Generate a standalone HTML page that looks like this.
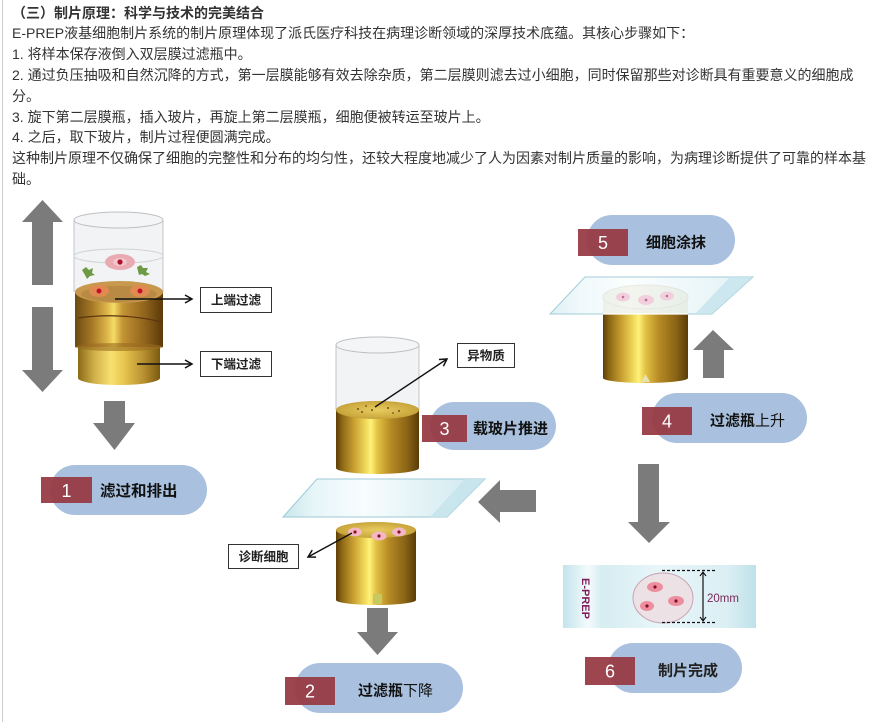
<!DOCTYPE html>
<html><head><meta charset="utf-8">
<style>
html,body{margin:0;padding:0;background:#fff;}
#wrap{position:relative;width:870px;height:722px;overflow:hidden;background:#fff;}
#txt{position:absolute;left:12px;top:2.6px;font-family:"Liberation Sans","Noto Sans CJK SC",sans-serif;font-size:14px;line-height:20.8px;color:#333;white-space:nowrap;}
#txt b{font-weight:bold;}
#border{position:absolute;left:2px;top:0;width:1px;height:722px;background:#cfcfcf;}
svg{position:absolute;left:0;top:0;}
</style></head>
<body><div id="wrap">
<div id="border"></div>
<div id="txt">
<b>（三）制片原理：科学与技术的完美结合</b><br>
E-PREP液基细胞制片系统的制片原理体现了派氏医疗科技在病理诊断领域的深厚技术底蕴。其核心步骤如下：<br>
1. 将样本保存液倒入双层膜过滤瓶中。<br>
2. 通过负压抽吸和自然沉降的方式，第一层膜能够有效去除杂质，第二层膜则滤去过小细胞，同时保留那些对诊断具有重要意义的细胞成<br>
分。<br>
3. 旋下第二层膜瓶，插入玻片，再旋上第二层膜瓶，细胞便被转运至玻片上。<br>
4. 之后，取下玻片，制片过程便圆满完成。<br>
这种制片原理不仅确保了细胞的完整性和分布的均匀性，还较大程度地减少了人为因素对制片质量的影响，为病理诊断提供了可靠的样本基<br>
础。
</div>
<svg width="870" height="722" viewBox="0 0 870 722" xmlns="http://www.w3.org/2000/svg">
<defs>
<linearGradient id="gold" x1="0" x2="1" y1="0" y2="0">
<stop offset="0" stop-color="#5e3f08"/><stop offset="0.08" stop-color="#8f6a16"/>
<stop offset="0.22" stop-color="#c9a032"/><stop offset="0.36" stop-color="#f0da5a"/>
<stop offset="0.42" stop-color="#fff27a"/><stop offset="0.5" stop-color="#e2c244"/>
<stop offset="0.66" stop-color="#b68a24"/><stop offset="0.86" stop-color="#8a6416"/>
<stop offset="1" stop-color="#5a3c08"/></linearGradient>
<linearGradient id="copper" x1="0" x2="1" y1="0" y2="0">
<stop offset="0" stop-color="#6a4a10"/><stop offset="0.2" stop-color="#a87a28"/>
<stop offset="0.36" stop-color="#dcb448"/><stop offset="0.44" stop-color="#f4dc66"/>
<stop offset="0.54" stop-color="#c49434"/><stop offset="0.8" stop-color="#8e621c"/>
<stop offset="1" stop-color="#5a3a08"/></linearGradient>
<linearGradient id="lgold" x1="0" x2="1" y1="0" y2="0">
<stop offset="0" stop-color="#8a6a18"/><stop offset="0.2" stop-color="#d0b048"/>
<stop offset="0.4" stop-color="#f8e070"/><stop offset="0.55" stop-color="#e8c850"/>
<stop offset="0.8" stop-color="#b89030"/><stop offset="1" stop-color="#7a5a10"/></linearGradient>
<radialGradient id="gtop" cx="0.5" cy="0.5" r="0.6">
<stop offset="0" stop-color="#e8cc60"/><stop offset="0.8" stop-color="#c9a63c"/><stop offset="1" stop-color="#a8842a"/></radialGradient>
<linearGradient id="glass" x1="0" x2="1" y1="0" y2="0">
<stop offset="0" stop-color="#c9e6ee"/><stop offset="0.15" stop-color="#e6f5f8"/>
<stop offset="0.4" stop-color="#f8fdfe"/><stop offset="0.7" stop-color="#e2f2f6"/>
<stop offset="1" stop-color="#cde8ef"/></linearGradient>
<linearGradient id="slide6" x1="0" x2="1" y1="0" y2="0">
<stop offset="0" stop-color="#c4e4ec"/><stop offset="0.06" stop-color="#d8eef3"/>
<stop offset="0.13" stop-color="#f4fbfc"/><stop offset="0.2" stop-color="#d6edf2"/>
<stop offset="0.5" stop-color="#e8f6f9"/><stop offset="0.85" stop-color="#dbeff4"/>
<stop offset="1" stop-color="#bfe1e9"/></linearGradient>
<marker id="ah" markerWidth="10" markerHeight="10" refX="8" refY="5" orient="auto" markerUnits="userSpaceOnUse">
<path d="M1,1 L8,5 L1,9" fill="none" stroke="#111" stroke-width="1.5"/></marker>
</defs>

<!-- ===== Step 1 (left) ===== -->
<polygon points="42.5,200 63,222 53,222 53,285 32,285 32,222 22,222" fill="#7b7b7b"/>
<polygon points="32,307 53,307 53,370 63,370 42.5,392 22,370 32,370" fill="#7b7b7b"/>
<rect x="74" y="220" width="89" height="72" fill="#e4e7ea" fill-opacity="0.5"/>
<line x1="74" y1="220" x2="74" y2="292" stroke="#c2c6ca"/>
<line x1="163" y1="220" x2="163" y2="292" stroke="#c2c6ca"/>
<ellipse cx="118.5" cy="256" rx="44.5" ry="7" fill="none" stroke="#cfd2d5"/>
<ellipse cx="118.5" cy="220" rx="44.5" ry="8" fill="#f4f5f6" stroke="#bdbfc2"/>
<ellipse cx="120" cy="262" rx="15" ry="8" fill="#e9aab2"/>
<ellipse cx="120" cy="262" rx="7" ry="4" fill="#f3c6cc"/>
<circle cx="120" cy="262" r="2.6" fill="#b01030"/>
<path d="M82,270 l4,-3 l3,3 l4,-2 l-1,5 l3,2 l-5,1 l-3,3 l-2,-4 z" fill="#6f9a45"/>
<path d="M137,267 l4,-2 l2,3 l5,0 l-2,4 l4,2 l-5,2 l-3,-2 l-3,1 z" fill="#6f9a45"/>
<rect x="78" y="345" width="82" height="33" fill="url(#lgold)"/>
<ellipse cx="119" cy="378" rx="41" ry="7" fill="url(#lgold)"/>
<rect x="75" y="292" width="88" height="55" fill="url(#copper)"/>
<ellipse cx="119" cy="347" rx="44" ry="4" fill="#9a6a20" opacity="0.6"/>
<path d="M78,318 Q120,312 162,322" stroke="#5a3410" stroke-width="1.2" fill="none"/>
<ellipse cx="119" cy="292" rx="44" ry="11" fill="#c8984c"/>
<ellipse cx="119" cy="294" rx="38" ry="8" fill="#b98a44"/>
<ellipse cx="99" cy="291" rx="10" ry="6" fill="#e08a52"/>
<ellipse cx="140" cy="291" rx="10" ry="6" fill="#e08a52"/>
<circle cx="99" cy="291" r="2.5" fill="#c0102a"/>
<circle cx="140" cy="291" r="2.5" fill="#c0102a"/>
<line x1="115" y1="299" x2="192" y2="299" stroke="#111" stroke-width="1.4" marker-end="url(#ah)"/>
<line x1="137" y1="364" x2="192" y2="364" stroke="#111" stroke-width="1.4" marker-end="url(#ah)"/>
<rect x="200.5" y="287.5" width="71" height="25" fill="#fff" stroke="#333"/>
<text x="236" y="304.5" text-anchor="middle" font-family="Liberation Sans, Noto Sans CJK SC, sans-serif" font-size="12.5" font-weight="bold" fill="#222">上端过滤</text>
<rect x="200.5" y="351.5" width="71" height="25" fill="#fff" stroke="#333"/>
<text x="236" y="368.5" text-anchor="middle" font-family="Liberation Sans, Noto Sans CJK SC, sans-serif" font-size="12.5" font-weight="bold" fill="#222">下端过滤</text>
<polygon points="104,401 125,401 125,423 135,423 114.5,450 93,423 104,423" fill="#7b7b7b"/>
<rect x="50" y="465" width="157" height="50" rx="25" fill="#a9c1de"/>
<rect x="41" y="477" width="51" height="26" fill="#973842" fill-opacity="0.93"/>
<text x="66.5" y="497" text-anchor="middle" font-family="Liberation Sans, sans-serif" font-size="18" fill="#fff">1</text>
<text x="100" y="496" font-family="Liberation Sans, Noto Sans CJK SC, sans-serif" font-size="15.5" font-weight="bold" fill="#111">滤过和排出</text>

<!-- ===== Step 3 / 2 (middle) ===== -->
<rect x="336" y="345" width="83" height="65" fill="#e4e7ea" fill-opacity="0.5"/>
<line x1="336" y1="345" x2="336" y2="410" stroke="#c2c6ca"/>
<line x1="419" y1="345" x2="419" y2="410" stroke="#c2c6ca"/>
<ellipse cx="377.5" cy="345" rx="41.5" ry="8" fill="#f4f5f6" stroke="#bdbfc2"/>
<rect x="336" y="410" width="83" height="58" fill="url(#gold)"/>
<ellipse cx="377.5" cy="468" rx="41.5" ry="6" fill="url(#gold)"/>
<ellipse cx="377.5" cy="410" rx="41.5" ry="9" fill="url(#gtop)"/>
<g fill="#6a5020"><circle cx="358" cy="409" r="1"/><circle cx="362" cy="412" r="1"/><circle cx="372" cy="410" r="1"/><circle cx="388" cy="408" r="1"/><circle cx="399" cy="411" r="1"/><circle cx="366" cy="406" r="0.9"/><circle cx="393" cy="413" r="0.9"/></g>
<line x1="375" y1="407" x2="447" y2="359" stroke="#111" stroke-width="1.4" marker-end="url(#ah)"/>
<rect x="457.5" y="343.5" width="57" height="24" fill="#fff" stroke="#333"/>
<text x="486" y="360" text-anchor="middle" font-family="Liberation Sans, Noto Sans CJK SC, sans-serif" font-size="12.5" font-weight="bold" fill="#222">异物质</text>
<rect x="430" y="402" width="126" height="48" rx="24" fill="#a9c1de"/>
<rect x="422" y="415" width="45" height="27" fill="#973842" fill-opacity="0.93"/>
<text x="444.5" y="435" text-anchor="middle" font-family="Liberation Sans, sans-serif" font-size="18" fill="#fff">3</text>
<text x="473" y="433.5" font-family="Liberation Sans, Noto Sans CJK SC, sans-serif" font-size="15" font-weight="bold" fill="#111">载玻片推进</text>
<polygon points="317,479 485,479 447,517 283,517" fill="url(#glass)" stroke="#9ccad6" stroke-width="1"/>
<polygon points="465,479 485,479 447,517 430,517" fill="#c6e4ec" opacity="0.9"/>
<polygon points="478,502 500,480 500,490 536,490 536,512 500,512 500,523" fill="#7b7b7b"/>
<rect x="336" y="530" width="80" height="70" fill="url(#gold)"/>
<ellipse cx="376" cy="600" rx="40" ry="5" fill="url(#gold)"/>
<rect x="373" y="594" width="9" height="10" fill="#c8c860"/>
<ellipse cx="376" cy="530" rx="40" ry="8" fill="url(#gtop)"/>
<ellipse cx="355" cy="532" rx="7" ry="4.5" fill="#f2b8c4"/><circle cx="355" cy="532" r="1.6" fill="#901030"/>
<ellipse cx="379" cy="536" rx="7.5" ry="4.5" fill="#f2b8c4"/><circle cx="379" cy="536" r="1.6" fill="#901030"/>
<ellipse cx="399" cy="532" rx="7" ry="4.5" fill="#f2b8c4"/><circle cx="399" cy="532" r="1.6" fill="#901030"/>
<line x1="352" y1="533" x2="308" y2="557" stroke="#111" stroke-width="1.4" marker-end="url(#ah)"/>
<rect x="228.5" y="544.5" width="70" height="24" fill="#fff" stroke="#333"/>
<text x="263.5" y="561" text-anchor="middle" font-family="Liberation Sans, Noto Sans CJK SC, sans-serif" font-size="12.5" font-weight="bold" fill="#222">诊断细胞</text>
<polygon points="367,608 388,608 388,632 398,632 377.5,655 357,632 367,632" fill="#7b7b7b"/>
<rect x="295" y="663" width="168" height="50" rx="25" fill="#a9c1de"/>
<rect x="285" y="677" width="50" height="28" fill="#973842" fill-opacity="0.93"/>
<text x="310" y="697.5" text-anchor="middle" font-family="Liberation Sans, sans-serif" font-size="18" fill="#fff">2</text>
<text x="358" y="695.5" font-family="Liberation Sans, Noto Sans CJK SC, sans-serif" font-size="15" fill="#111"><tspan font-weight="bold">过滤瓶</tspan>下降</text>

<!-- ===== Step 5 / 4 / 6 (right) ===== -->
<rect x="587" y="215" width="148" height="50" rx="25" fill="#a9c1de"/>
<rect x="578" y="229" width="50" height="27" fill="#973842" fill-opacity="0.93"/>
<text x="603" y="249" text-anchor="middle" font-family="Liberation Sans, sans-serif" font-size="18" fill="#fff">5</text>
<text x="646" y="247.5" font-family="Liberation Sans, Noto Sans CJK SC, sans-serif" font-size="15" font-weight="bold" fill="#111">细胞涂抹</text>
<rect x="603" y="312" width="85" height="66" fill="url(#gold)"/>
<ellipse cx="645.5" cy="378" rx="42.5" ry="5" fill="url(#gold)"/>
<polygon points="641,382 645.5,374 650,382" fill="#e8e0b0"/>
<rect x="603" y="297" width="85" height="17" fill="#ebe6cf"/>
<ellipse cx="645.5" cy="297" rx="42.5" ry="12" fill="#ece8d6" stroke="#d6d0b6"/>
<polygon points="585,277 753,277 712,314 550,314" fill="url(#glass)" fill-opacity="0.6" stroke="#a2cdd8" stroke-width="1"/>
<polygon points="730,277 753,277 712,314 695,314" fill="#c6e4ec" opacity="0.8"/>
<ellipse cx="623" cy="297" rx="7" ry="4.5" fill="#f1cfdc"/><circle cx="623" cy="297" r="1.3" fill="#c07090"/>
<ellipse cx="646" cy="300" rx="8" ry="5" fill="#f1cfdc"/><circle cx="646" cy="300" r="1.4" fill="#c07090"/>
<ellipse cx="667" cy="296" rx="7" ry="4.5" fill="#f1cfdc"/><circle cx="667" cy="296" r="1.3" fill="#c07090"/>
<line x1="603" y1="314" x2="688" y2="314" stroke="#fff" stroke-width="1.2"/>
<polygon points="713,330 734,350 724,350 724,378 703,378 703,350 693,350" fill="#7b7b7b"/>
<rect x="652" y="393" width="155" height="50" rx="25" fill="#a9c1de"/>
<rect x="642" y="407" width="50" height="28" fill="#973842" fill-opacity="0.93"/>
<text x="667" y="427.5" text-anchor="middle" font-family="Liberation Sans, sans-serif" font-size="18" fill="#fff">4</text>
<text x="710" y="425.5" font-family="Liberation Sans, Noto Sans CJK SC, sans-serif" font-size="15" fill="#111"><tspan font-weight="bold">过滤瓶</tspan>上升</text>
<polygon points="638,464 659,464 659,522 670,522 649,543 628,522 638,522" fill="#7b7b7b"/>
<rect x="563" y="565" width="193" height="63" fill="url(#slide6)"/>
<text transform="translate(582,578) rotate(90)" font-family="Liberation Sans, sans-serif" font-size="11" font-weight="bold" fill="#7e1d5c">E-PREP</text>
<ellipse cx="663" cy="598" rx="30" ry="25" fill="#ece2e6" stroke="#c8a2b2" stroke-width="1"/>
<ellipse cx="655" cy="587" rx="8" ry="5" fill="#ec8e9e"/><circle cx="655" cy="587" r="1.6" fill="#8a0a2a"/>
<ellipse cx="676" cy="601" rx="8" ry="5" fill="#ec8e9e"/><circle cx="676" cy="601" r="1.6" fill="#8a0a2a"/>
<ellipse cx="647" cy="606" rx="7" ry="5" fill="#ec8e9e"/><circle cx="647" cy="606" r="1.6" fill="#8a0a2a"/>
<line x1="662" y1="570.5" x2="715" y2="570.5" stroke="#111" stroke-width="1.2" stroke-dasharray="3,2"/>
<line x1="662" y1="622.5" x2="715" y2="622.5" stroke="#111" stroke-width="1.2" stroke-dasharray="3,2"/>
<line x1="703" y1="572" x2="703" y2="621" stroke="#111" stroke-width="1.2"/>
<path d="M700,576 L703,572 L706,576 M700,617 L703,621 L706,617" fill="none" stroke="#111" stroke-width="1.1"/>
<text x="707" y="602" font-family="Liberation Sans, sans-serif" font-size="11.5" fill="#7a2a5a">20mm</text>
<rect x="608" y="643" width="134" height="50" rx="25" fill="#a9c1de"/>
<rect x="585" y="657" width="50" height="28" fill="#973842" fill-opacity="0.93"/>
<text x="610" y="677.5" text-anchor="middle" font-family="Liberation Sans, sans-serif" font-size="18" fill="#fff">6</text>
<text x="658" y="675.5" font-family="Liberation Sans, Noto Sans CJK SC, sans-serif" font-size="15" font-weight="bold" fill="#222">制片完成</text>
</svg>
</div></body></html>
